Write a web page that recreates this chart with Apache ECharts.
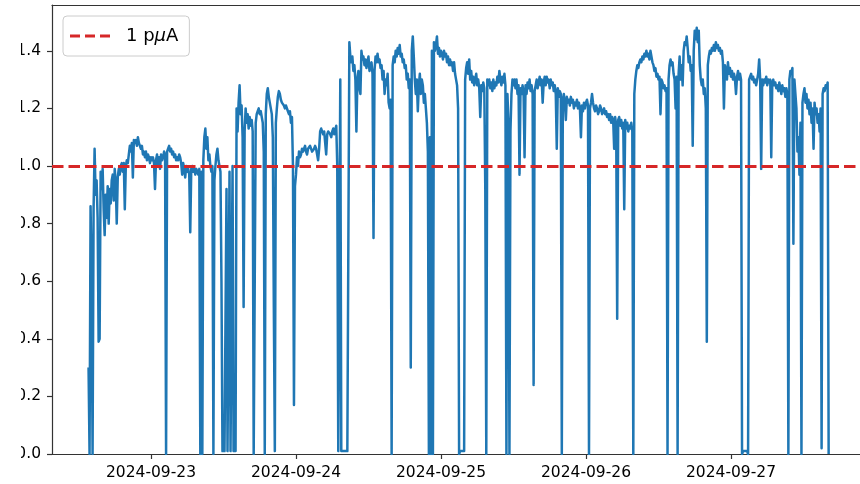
<!DOCTYPE html>
<html>
<head>
<meta charset="utf-8">
<script src="https://cdn.jsdelivr.net/npm/echarts@6/dist/echarts.min.js"></script>
<style>
  html, body { margin: 0; padding: 0; background: #fff; overflow: hidden; width: 860px; height: 484px; }
  #chart { position: absolute; left: -30px; top: 0; width: 895px; height: 484px; }
</style>
</head>
<body>
<div id="chart"></div>
<script>
// Beam current log, one reading every 10 minutes, one array per day.
const SAMPLE_MINUTES = 10;

const dayStarts = [
  '2024-09-22T13:40:00Z',
  '2024-09-23T00:00:00Z',
  '2024-09-24T00:00:00Z',
  '2024-09-25T00:00:00Z',
  '2024-09-26T00:00:00Z',
  '2024-09-27T00:00:00Z'
];

const current22 = [
  0.30, 0.00, 0.86, 0.62, 0.00, 0.85, 1.06, 0.90, 0.95, 0.82,
  0.39, 0.40, 0.98, 0.92, 0.99, 0.85, 0.76, 0.90, 0.82, 0.93,
  0.80, 0.92, 0.87, 0.95, 0.97, 0.88, 0.99, 0.94, 0.80, 0.96,
  0.99, 0.97, 1.00, 1.01, 0.98, 1.01, 0.85, 1.00, 1.02, 1.01,
  1.04, 1.07, 1.05, 1.08, 0.96, 1.09, 1.08, 1.09, 1.07, 1.10,
  1.08, 1.08, 1.06, 1.07, 1.04, 1.05, 1.03, 1.05, 1.02, 1.04,
  1.03, 1.01
];

const current23 = [
  1.03, 1.02, 1.03, 1.01, 0.92, 1.02, 1.04, 1.00, 1.03, 0.99,
  1.04, 1.02, 1.03, 1.05, 1.04, 0.00, 1.05, 1.06, 1.07, 1.05,
  1.06, 1.04, 1.05, 1.03, 1.04, 1.02, 1.03, 1.02, 1.04, 1.03,
  1.01, 0.97, 1.01, 0.99, 0.96, 1.00, 0.98, 0.99, 0.97, 0.77,
  0.99, 1.00, 0.98, 0.99, 0.97, 0.99, 0.98, 0.97, 0.99, 0.00,
  0.98, 0.00, 1.02, 1.10, 1.13, 1.06, 1.10, 1.02, 1.04, 1.00,
  0.98, 1.00, 0.00, 0.95, 1.00, 1.04, 1.06, 1.02, 1.00, 0.98,
  0.60, 0.01, 0.01, 0.01, 0.01, 0.92, 0.01, 0.01, 0.98, 0.01,
  0.01, 1.00, 0.01, 0.01, 0.01, 1.20, 1.12, 1.22, 1.28, 1.18,
  1.21, 1.10, 0.51, 1.12, 1.20, 1.15, 1.18, 1.13, 1.17, 1.14,
  1.16, 1.12, 0.00, 0.00, 1.15, 1.18, 1.19, 1.20, 1.18, 1.19,
  1.17, 1.15, 1.05, 0.00, 1.18, 1.25, 1.27, 1.24, 1.22, 1.20,
  1.18, 1.10, 0.51, 0.01, 1.15, 1.20, 1.24, 1.26, 1.25, 1.23,
  1.22, 1.22, 1.21, 1.20, 1.21, 1.21, 1.19, 1.18, 1.19, 1.15,
  1.17, 1.00, 0.17, 0.93
];

const current24 = [
  0.97, 1.03, 1.00, 1.05, 1.03, 1.04, 1.06, 1.05, 1.06, 1.07,
  1.05, 1.04, 1.06, 1.06, 1.07, 1.07, 1.05, 1.05, 1.06, 1.07,
  1.06, 1.06, 1.02, 1.06, 1.12, 1.13, 1.12, 1.11, 1.12, 1.12,
  1.04, 1.11, 1.12, 1.12, 1.11, 1.10, 1.12, 1.13, 1.11, 1.11,
  1.14, 1.00, 0.01, 0.01, 1.30, 0.01, 0.01, 0.01, 0.01, 0.01,
  0.01, 0.01, 0.01, 1.43, 1.38, 1.36, 1.38, 1.33, 1.35, 1.30,
  1.12, 1.30, 1.33, 1.27, 1.25, 1.40, 1.37, 1.38, 1.35, 1.37,
  1.34, 1.36, 1.38, 1.33, 1.35, 1.36, 1.32, 0.75, 1.33, 1.38,
  1.36, 1.39, 1.36, 1.37, 1.34, 1.35, 1.30, 1.33, 1.25, 1.30,
  1.28, 1.32, 1.22, 1.20, 1.23, 0.00, 1.35, 1.38, 1.36, 1.40,
  1.38, 1.41, 1.39, 1.42, 1.38, 1.39, 1.36, 1.37, 1.34, 1.35,
  1.30, 1.32, 1.27, 1.30, 0.30, 1.40, 1.45, 1.38, 1.30, 1.25,
  1.30, 1.19, 1.28, 1.32, 1.25, 1.30, 1.28, 1.22, 1.25, 1.20,
  1.15, 1.05, 0.00, 1.10, 0.00, 1.40, 0.00, 1.43, 1.40, 1.42,
  1.45, 1.39, 1.41, 1.38
];

const current25 = [
  1.40, 1.39, 1.37, 1.40, 1.38, 1.39, 1.36, 1.38, 1.35, 1.37,
  1.35, 1.36, 1.33, 1.36, 1.32, 1.30, 1.28, 1.20, 0.00, 0.01,
  0.01, 0.01, 0.01, 0.01, 1.30, 1.34, 1.36, 1.32, 1.37, 1.30,
  1.33, 1.29, 1.31, 1.28, 1.30, 1.32, 1.28, 1.30, 1.27, 1.17,
  1.28, 1.26, 1.29, 1.27, 0.92, 0.00, 1.30, 1.28, 1.30, 1.27,
  1.29, 1.26, 1.30, 1.27, 1.29, 1.28, 1.31, 1.29, 1.33, 1.30,
  1.28, 1.31, 1.29, 1.32, 1.28, 0.00, 1.25, 1.15, 0.00, 1.12,
  1.25, 1.30, 1.28, 1.30, 1.27, 1.30, 1.25, 1.28, 0.97, 1.27,
  1.25, 1.28, 1.26, 1.03, 1.28, 1.25, 1.29, 1.27, 1.30, 1.26,
  1.28, 1.25, 0.24, 1.26, 1.28, 1.30, 1.27, 1.29, 1.31, 1.28,
  1.30, 1.22, 1.29, 1.31, 1.28, 1.31, 1.29, 1.30, 1.27, 1.30,
  1.28, 1.29, 1.26, 1.28, 1.25, 1.06, 1.27, 1.24, 1.26, 1.25,
  0.00, 1.23, 1.25, 1.22, 1.16, 1.24, 1.22, 1.23, 1.21, 1.24,
  1.22, 1.23, 1.20, 1.22, 1.21, 1.23, 1.20, 1.22, 1.20, 1.10,
  1.21, 1.19, 1.22, 1.20
];

const current26 = [
  1.22, 1.23, 1.21, 0.00, 1.20, 1.22, 1.25, 1.22, 1.20, 1.19,
  1.21, 1.20, 1.18, 1.19, 1.21, 1.20, 1.18, 1.19, 1.20, 1.18,
  1.19, 1.17, 1.18, 1.16, 1.18, 1.15, 1.17, 1.16, 1.06, 1.17,
  1.14, 0.47, 1.16, 1.17, 1.14, 1.16, 1.13, 1.15, 0.85, 1.16,
  1.13, 1.15, 1.12, 1.14, 1.13, 1.15, 1.12, 0.00, 1.25, 1.30,
  1.33, 1.35, 1.34, 1.36, 1.37, 1.36, 1.38, 1.37, 1.39, 1.38,
  1.40, 1.38, 1.39, 1.37, 1.40, 1.38, 1.36, 1.35, 1.33, 1.34,
  1.31, 1.32, 1.30, 1.31, 1.18, 1.30, 1.29, 1.27, 1.28, 1.26,
  1.27, 0.00, 1.30, 1.35, 1.37, 1.35, 1.36, 1.32, 1.30, 1.20,
  1.31, 0.00, 1.32, 1.38, 1.30, 1.35, 1.28, 1.40, 1.43, 1.42,
  1.45, 1.41, 1.36, 1.38, 1.33, 1.35, 1.07, 1.40, 1.47, 1.44,
  1.48, 1.43, 1.47, 1.35, 1.30, 1.28, 1.30, 1.25, 1.27, 1.20,
  0.39, 1.35, 1.38, 1.40, 1.39, 1.41, 1.40, 1.42, 1.40, 1.43,
  1.41, 1.42, 1.40, 1.41, 1.39, 1.40, 1.36, 1.20, 1.35, 1.33,
  1.30, 1.36, 1.32, 1.34
];

const current27 = [
  1.31, 1.33, 1.30, 1.32, 1.30, 1.25, 1.31, 1.33, 1.30, 1.32,
  1.30, 0.00, 0.01, 0.01, 0.01, 0.01, 0.01, 0.00, 1.30, 1.31,
  1.32, 1.30, 1.31, 1.29, 1.30, 1.28, 1.30, 1.32, 1.37, 1.30,
  0.99, 1.30, 1.28, 1.30, 1.29, 1.31, 1.28, 1.30, 1.29, 1.30,
  1.03, 1.29, 1.30, 1.28, 1.29, 1.27, 1.28, 1.26, 1.29, 1.27,
  1.25, 1.28, 1.26, 1.27, 1.24, 1.27, 1.25, 0.00, 1.30, 1.33,
  1.32, 1.34, 0.73, 1.30, 1.25, 1.20, 1.05, 1.10, 0.97, 1.15,
  0.00, 1.22, 1.25, 1.27, 1.22, 1.25, 1.20, 1.23, 1.18, 1.22,
  1.15, 1.20, 1.06, 1.22, 1.18, 1.20, 1.15, 1.18, 1.12, 1.20,
  0.02, 1.25, 1.27, 1.26, 1.28, 1.27, 1.29, 0.00
];

const dailyCurrents = [current22, current23, current24, current25, current26, current27];

// Reference level drawn as the dashed line
const thresholdLevel = 1.0;
const thresholdLabel = '1 pμA';

// Axis ticks
const xTickLabels = ['2024-09-23', '2024-09-24', '2024-09-25', '2024-09-26', '2024-09-27'];
const yTickValues = [0, 0.2, 0.4, 0.6, 0.8, 1.0, 1.2, 1.4];

// Visible window of the time axis
const xRangeStart = '2024-09-22T07:37:00Z';
const xRangeEnd = '2024-09-27T22:11:00Z';
const yMax = 1.559;

const FONT = 'DejaVu Sans';
const AXIS_COLOR = '#333';
const RED = '#d62728';
const BLUE = '#1f77b4';

const samplePoints = [];
dayStarts.forEach((start, d) => {
  const t0 = Date.parse(start);
  dailyCurrents[d].forEach((v, i) => {
    samplePoints.push([t0 + i * SAMPLE_MINUTES * 60000, v]);
  });
});

const xTickTimes = xTickLabels.map(s => Date.parse(s + 'T00:00:00Z'));
const xMin = Date.parse(xRangeStart);
const xMax = Date.parse(xRangeEnd);

const chart = echarts.init(document.getElementById('chart'), null, { renderer: 'canvas' });

chart.setOption({
  animation: false,
  backgroundColor: '#fff',
  grid: {
    left: 82, right: 0, top: 5, bottom: 30,
    containLabel: false, outerBoundsMode: 'none'
  },
  xAxis: [
    {
      type: 'value',
      min: xMin,
      max: xMax,
      axisLine: { show: true, onZero: false, lineStyle: { color: AXIS_COLOR, width: 1.2 } },
      axisTick: { show: true, customValues: xTickTimes, length: 5, lineStyle: { color: AXIS_COLOR, width: 1.2 } },
      axisLabel: {
        customValues: xTickTimes,
        formatter: v => xTickLabels[xTickTimes.indexOf(v)] || '',
        fontFamily: FONT, fontSize: 15.5, color: '#000', margin: 11
      },
      splitLine: { show: false }
    },
    {
      // top frame edge
      type: 'value',
      position: 'top',
      min: xMin,
      max: xMax,
      axisLine: { show: true, onZero: false, lineStyle: { color: AXIS_COLOR, width: 1.2 } },
      axisTick: { show: false },
      axisLabel: { show: false },
      splitLine: { show: false }
    }
  ],
  yAxis: {
    type: 'value',
    min: 0,
    max: yMax,
    axisLine: { show: true, onZero: false, lineStyle: { color: AXIS_COLOR, width: 1.2 } },
    axisTick: { show: true, customValues: yTickValues, length: 5, lineStyle: { color: AXIS_COLOR, width: 1.2 } },
    axisLabel: {
      customValues: yTickValues,
      formatter: v => Number(v).toFixed(1),
      fontFamily: FONT, fontSize: 15.5, color: '#000', margin: 11
    },
    splitLine: { show: false }
  },
  legend: {
    data: [{
      name: thresholdLabel,
      icon: 'path://M0 0H10V3H0Z M15 0H25V3H15Z M30 0H40V3H30Z',
      itemStyle: { color: RED, borderWidth: 0 }
    }],
    left: 93, top: 16,
    orient: 'vertical',
    itemWidth: 40, itemHeight: 3,
    padding: [10, 11, 10, 7],
    backgroundColor: 'rgba(255,255,255,0.8)',
    borderColor: '#cccccc', borderWidth: 1, borderRadius: 4,
    selectedMode: false,
    formatter: () => '{g| }1 p{it|μ}A',
    textStyle: {
      fontFamily: FONT, fontSize: 18, color: '#000', lineHeight: 20,
      rich: {
        g: { width: 11, fontSize: 18 },
        it: { fontStyle: 'italic', fontFamily: FONT, fontSize: 18, color: '#000' }
      }
    },
    z: 10
  },
  graphic: [{
    type: 'rect', left: 0, top: 0, z: 100, silent: true,
    shape: { x: 0, y: 0, width: 51, height: 462 },
    style: { fill: '#fff' }
  }],
  series: [
    {
      name: 'current',
      type: 'line',
      data: samplePoints,
      symbol: 'none',
      showSymbol: false,
      lineStyle: { color: BLUE, width: 2.5, join: 'round' },
      itemStyle: { color: BLUE },
      silent: true,
      z: 2
    },
    {
      name: thresholdLabel,
      type: 'line',
      data: [],
      symbol: 'none',
      lineStyle: { color: RED, width: 3, type: [11.5, 5] },
      itemStyle: { color: RED },
      markLine: {
        silent: true,
        symbol: ['none', 'none'],
        label: { show: false },
        lineStyle: { color: RED, width: 3, type: [11.5, 5] },
        data: [{ yAxis: thresholdLevel }]
      },
      z: 3
    }
  ]
});
</script>
</body>
</html>
